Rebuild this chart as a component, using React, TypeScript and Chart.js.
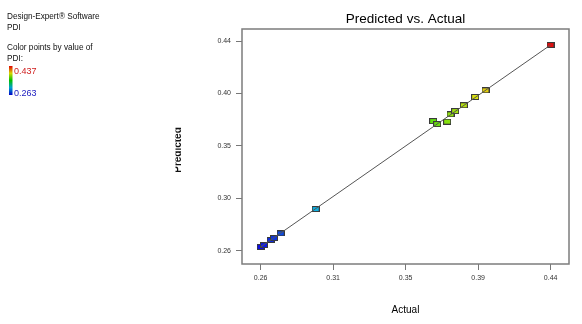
import React, { useEffect, useRef } from "react";
import { Chart, registerables } from "chart.js";

Chart.register(...registerables);

// Data
const ACTUAL = [0.263, 0.265, 0.269, 0.271, 0.275, 0.296, 0.3665, 0.3689, 0.3749, 0.3769, 0.3797, 0.3849, 0.3917, 0.3979, 0.4369];
const PREDICTED = [0.2661, 0.2677, 0.2719, 0.2735, 0.2774, 0.2976, 0.3706, 0.3681, 0.3701, 0.3762, 0.3789, 0.3837, 0.3906, 0.3961, 0.4337];
const LINE_X = [0.263, 0.4369];
const LINE_Y = [0.2661, 0.4337];
const X_TICKS = [0.263, 0.3065, 0.35, 0.3935, 0.437];
const X_TICK_LABELS = ["0.26", "0.31", "0.35", "0.39", "0.44"];
const Y_TICKS = [0.263, 0.3065, 0.35, 0.3935, 0.437];
const Y_TICK_LABELS = ["0.26", "0.30", "0.35", "0.40", "0.44"];
const PDI_MIN = 0.263;
const PDI_MAX = 0.437;

const FONT = "'Liberation Sans', Arial, sans-serif";

function colorFor(v: number): string {
  let t = (v - PDI_MIN) / (PDI_MAX - PDI_MIN);
  t = Math.max(0, Math.min(1, t));
  const hue = 240 * (1 - t);
  return `hsl(${hue.toFixed(0)}, 88%, 47%)`;
}

const styleCache: Record<string, HTMLCanvasElement> = {};
function markerFor(color: string): HTMLCanvasElement {
  if (styleCache[color]) return styleCache[color];
  const c = document.createElement("canvas");
  c.width = 8;
  c.height = 6;
  const g = c.getContext("2d")!;
  g.fillStyle = color;
  g.fillRect(0, 0, 8, 6);
  g.strokeStyle = "#3a3a3a";
  g.lineWidth = 1;
  g.strokeRect(0.5, 0.5, 7, 5);
  styleCache[color] = c;
  return c;
}

const decorPlugin = {
  id: "decor",
  beforeDatasetsDraw(chart: any) {
    const ctx = chart.ctx;
    const { left, top, right, bottom } = chart.chartArea;
    ctx.save();
    ctx.strokeStyle = "#7c7c7c";
    ctx.lineWidth = 1.5;
    ctx.strokeRect(left, top, right - left, bottom - top);
    ctx.restore();
  },
  afterDraw(chart: any) {
    const ctx = chart.ctx;
    const { left, top, right, bottom } = chart.chartArea;
    ctx.save();
    // Title
    ctx.fillStyle = "#000";
    ctx.font = `13.5px ${FONT}`;
    ctx.textAlign = "center";
    ctx.textBaseline = "alphabetic";
    ctx.fillText("Predicted vs. Actual", (left + right) / 2, 23);
    // X axis title
    ctx.font = `10px ${FONT}`;
    ctx.fillText("Actual", (left + right) / 2, 313);
    // Y axis title (partly clipped, as in the reference)
    ctx.save();
    ctx.beginPath();
    ctx.rect(175.5, 100, 20, 100);
    ctx.clip();
    ctx.translate(181, 150);
    ctx.rotate(-Math.PI / 2);
    ctx.font = `bold 10px ${FONT}`;
    ctx.fillStyle = "#111";
    ctx.fillText("Predicted", 0, 0);
    ctx.restore();
    // Left info text
    ctx.textAlign = "left";
    ctx.font = `8.2px ${FONT}`;
    ctx.fillStyle = "#111";
    ctx.fillText("Design-Expert\u00AE Software", 7, 19);
    ctx.fillText("PDI", 7, 30);
    ctx.fillText("Color points by value of", 7, 50);
    ctx.fillText("PDI:", 7, 61);
    // gradient bar
    const grad = ctx.createLinearGradient(0, 66, 0, 95);
    grad.addColorStop(0, "#e00000");
    grad.addColorStop(0.25, "#d8d800");
    grad.addColorStop(0.5, "#00c000");
    grad.addColorStop(0.75, "#00a0d0");
    grad.addColorStop(1, "#0000c8");
    ctx.fillStyle = grad;
    ctx.fillRect(9, 66, 3.5, 29);
    ctx.font = `9px ${FONT}`;
    ctx.fillStyle = "#d02020";
    ctx.fillText(String(PDI_MAX), 14, 74);
    ctx.fillStyle = "#2020c0";
    ctx.fillText(String(PDI_MIN), 14, 96);
    ctx.restore();
  },
};

export default function App() {
  const ref = useRef<HTMLCanvasElement | null>(null);
  useEffect(() => {
    if (!ref.current) return;
    const points = ACTUAL.map((x, i) => ({ x, y: PREDICTED[i] }));
    const line = LINE_X.map((x, i) => ({ x, y: LINE_Y[i] }));
    const colors = ACTUAL.map(colorFor);
    const chart = new Chart(ref.current, {
      type: "scatter",
      data: {
        datasets: [
          {
            type: "line",
            data: line,
            borderColor: "#555555",
            borderWidth: 1,
            pointRadius: 0,
            fill: false,
            order: 0,
          } as any,
          {
            type: "scatter",
            data: points,
            pointStyle: colors.map(markerFor) as any,
            pointRadius: 4,
            order: 1,
          } as any,
        ],
      },
      options: {
        animation: false,
        responsive: false,
        devicePixelRatio: 1,
        events: [],
        layout: { padding: { top: 29, right: 13, left: 0, bottom: 0 } },
        plugins: {
          legend: { display: false },
          title: { display: false },
          tooltip: { enabled: false },
        },
        scales: {
          x: {
            type: "linear",
            min: 0.2518,
            max: 0.448,
            afterBuildTicks: (s: any) => {
              s.ticks = X_TICKS.map((v) => ({ value: v }));
            },
            afterFit: (s: any) => {
              s.height = 60;
            },
            ticks: {
              autoSkip: false,
              maxRotation: 0,
              padding: 4,
              color: "#333",
              font: { size: 7, family: FONT },
              callback: (_v: any, i: number) => X_TICK_LABELS[i],
            },
            grid: { drawOnChartArea: false, drawTicks: true, tickLength: 6, color: "#777", lineWidth: 1 },
            border: { display: false },
          },
          y: {
            type: "linear",
            min: 0.252,
            max: 0.447,
            afterBuildTicks: (s: any) => {
              s.ticks = Y_TICKS.map((v) => ({ value: v }));
            },
            afterFit: (s: any) => {
              s.width = 242;
            },
            ticks: {
              autoSkip: false,
              padding: 5,
              color: "#333",
              font: { size: 7, family: FONT },
              callback: (_v: any, i: number) => Y_TICK_LABELS[i],
            },
            grid: { drawOnChartArea: false, drawTicks: true, tickLength: 6, color: "#777", lineWidth: 1 },
            border: { display: false },
          },
        },
      },
      plugins: [decorPlugin],
    });
    return () => chart.destroy();
  }, []);
  return (
    <div style={{ position: "absolute", left: 0, top: 0, width: 582, height: 324, background: "#fff" }}>
      <canvas ref={ref} width={582} height={324} style={{ display: "block", width: 582, height: 324 }} />
    </div>
  );
}
